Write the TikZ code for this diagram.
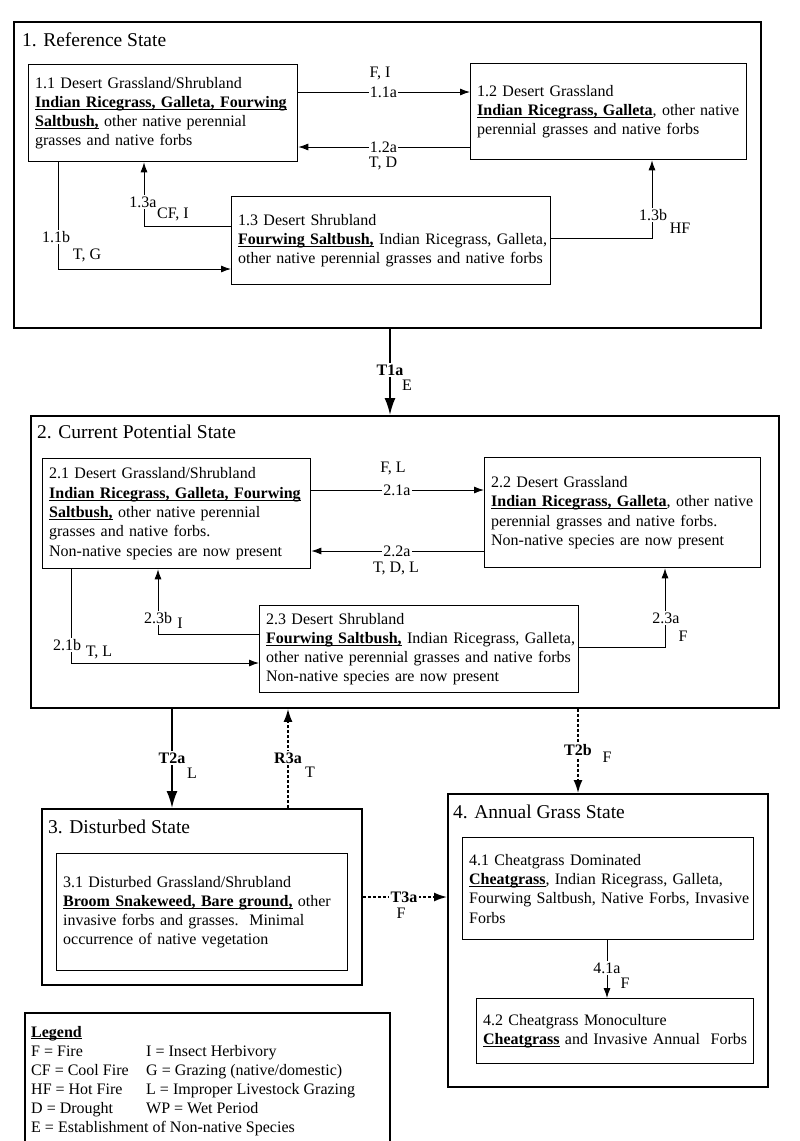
\documentclass[tikz,border=0pt]{standalone}
\usepackage{fontspec}
\setmainfont{Liberation Serif}
\usetikzlibrary{arrows.meta}
\newcommand\ulb[1]{\leavevmode\setbox0\hbox{\textbf{#1}}\rlap{\rule[-2.3pt]{\wd0}{0.9pt}}\box0\relax}
\newcommand\ml[1]{\mbox{#1}}
\newcommand\fsz{\fontsize{16}{19.3}\selectfont}
\newcommand\ftl{\fontsize{19.5}{23}\selectfont}
\tikzset{
  box/.style={draw, line width=1.3pt, inner xsep=6.5pt, inner ysep=0pt, anchor=north west, align=left, font=\fsz},
  statebox/.style={draw, line width=1.9pt, anchor=north west, inner sep=0pt},
  ttl/.style={anchor=west, inner sep=0pt, font=\ftl},
  lab/.style={font=\fsz, inner sep=1.2pt, fill=white},
  cond/.style={font=\fsz, inner sep=0pt},
  blab/.style={font=\fsz\bfseries, inner sep=1.5pt, fill=white},
  leg/.style={font=\fsz, inner sep=0pt, anchor=base west},
  thinarr/.style={line width=0.9pt, -{Latex[length=10pt,width=7pt]}},
  thickarr/.style={line width=1.9pt, -{Latex[length=17pt,width=11pt]}},
  dasharr/.style={line width=1.6pt, dash pattern=on 3pt off 2pt, -{Latex[length=13pt,width=9pt]}},
}
\begin{document}
\begin{tikzpicture}[x=1pt,y=-1pt]
\useasboundingbox (0,0) rectangle (800,1141);

% ---------- state boxes ----------
\node[statebox, minimum width=747pt, minimum height=306pt] (s1) at (13,21) {};
\node[ttl] (t1) at (22,40) {1. Reference State};
\node[statebox, minimum width=748pt, minimum height=292pt] (s2) at (30,415) {};
\node[ttl] (t2) at (37,432) {2. Current Potential State};
\node[statebox, minimum width=320pt, minimum height=176pt] (s3) at (41,808) {};
\node[ttl] (t3) at (48,827) {3. Disturbed State};
\node[statebox, minimum width=320pt, minimum height=293pt] (s4) at (447,793) {};
\node[ttl] (t4) at (453,812) {4. Annual Grass State};

% ---------- community boxes ----------
\node[box, minimum width=269pt, minimum height=97pt, text width=256pt] (n11) at (28,64)
 {\ml{1.1 Desert Grassland/Shrubland}\\ \ml{\ulb{Indian Ricegrass, Galleta, Fourwing}}\\ \ml{\ulb{Saltbush,} other native perennial}\\ \ml{grasses and native forbs}};
\node[box, minimum width=276pt, minimum height=96pt, text width=263pt] (n12) at (470,63)
 {\ml{1.2 Desert Grassland}\\ \ml{\ulb{Indian Ricegrass, Galleta}, other native}\\ \ml{perennial grasses and native forbs}};
\node[box, minimum width=319pt, minimum height=88pt, text width=306pt] (n13) at (231,196)
 {\ml{1.3 Desert Shrubland}\\ \ml{\ulb{Fourwing Saltbush,} Indian Ricegrass, Galleta,}\\ \ml{other native perennial grasses and native forbs}};

\node[box, minimum width=268pt, minimum height=110pt, text width=255pt] (n21) at (42,458)
 {\ml{2.1 Desert Grassland/Shrubland}\\ \ml{\ulb{Indian Ricegrass, Galleta, Fourwing}}\\ \ml{\ulb{Saltbush,} other native perennial}\\ \ml{grasses and native forbs.}\\ \ml{Non-native species are now present}};
\node[box, minimum width=276pt, minimum height=110pt, text width=263pt] (n22) at (484,457)
 {\ml{2.2 Desert Grassland}\\ \ml{\ulb{Indian Ricegrass, Galleta}, other native}\\ \ml{perennial grasses and native forbs.}\\ \ml{Non-native species are now present}};
\node[box, minimum width=319pt, minimum height=87pt, text width=306pt] (n23) at (259,605)
 {\ml{2.3 Desert Shrubland}\\ \ml{\ulb{Fourwing Saltbush,} Indian Ricegrass, Galleta,}\\ \ml{other native perennial grasses and native forbs}\\ \ml{Non-native species are now present}};

\node[box, minimum width=291pt, minimum height=117pt, text width=278pt] (n31) at (56,853)
 {\ml{3.1 Disturbed Grassland/Shrubland}\\ \ml{\ulb{Broom Snakeweed, Bare ground,} other}\\ \ml{invasive forbs and grasses.\ \ Minimal}\\ \ml{occurrence of native vegetation}};

\node[box, minimum width=291pt, minimum height=102pt, text width=278pt] (n41) at (462,837)
 {\ml{4.1 Cheatgrass Dominated}\\ \ml{\ulb{Cheatgrass}, Indian Ricegrass, Galleta,}\\ \ml{Fourwing Saltbush, Native Forbs, Invasive}\\ \ml{Forbs}};
\node[box, minimum width=277pt, minimum height=65pt, text width=264pt] (n42) at (476,998)
 {\ml{4.2 Cheatgrass Monoculture}\\ \ml{\ulb{Cheatgrass} and Invasive Annual\ \ Forbs}};

% ---------- transitions inside state 1 ----------
\draw[thinarr] (n11.east |- 0,92) -- (n12.west |- 0,92);
\draw[thinarr] (n12.west |- 0,147) -- (n11.east |- 0,147);
\draw[thinarr] (n13.west |- 0,226) -| (n11.south -| 144,0);
\draw[thinarr] (n11.south -| 58,0) |- (n13.west |- 0,269);
\draw[thinarr] (n13.east |- 0,238) -| (n12.south -| 652,0);
\node[lab] (l11a) at (383.5,92) {1.1a};
\node[cond] (c11a) at (380,73) {F, I};
\node[lab] (l12a) at (383.5,147) {1.2a};
\node[cond] (c12a) at (383,163) {T, D};
\node[lab] (l13a) at (143,202) {1.3a};
\node[cond] (c13a) at (173,214) {CF, I};
\node[lab] (l11b) at (56,237) {1.1b};
\node[cond] (c11b) at (87,255) {T, G};
\node[lab] (l13b) at (653,215) {1.3b};
\node[cond] (c13b) at (680,228) {HF};

% ---------- T1a ----------
\draw[thickarr] (s1.south -| 390,0) -- (s2.north -| 390,0);
\node[blab] (lt1a) at (390,370) {T1a};
\node[cond] (ct1a) at (407,385) {E};

% ---------- transitions inside state 2 ----------
\draw[thinarr] (n21.east |- 0,490) -- (n22.west |- 0,490);
\draw[thinarr] (n22.west |- 0,551) -- (n21.east |- 0,551);
\draw[thinarr] (n23.west |- 0,634) -| (n21.south -| 158,0);
\draw[thinarr] (n21.south -| 71,0) |- (n23.west |- 0,663);
\draw[thinarr] (n23.east |- 0,647) -| (n22.south -| 665,0);
\node[lab] (l21a) at (397,490) {2.1a};
\node[cond] (c21a) at (393,468) {F, L};
\node[lab] (l22a) at (397,551) {2.2a};
\node[cond] (c22a) at (396,568) {T, D, L};
\node[lab] (l23b) at (158,618) {2.3b};
\node[cond] (c23b) at (180,623) {I};
\node[lab] (l21b) at (67,645) {2.1b};
\node[cond] (c21b) at (99,652) {T, L};
\node[lab] (l23a) at (666,618) {2.3a};
\node[cond] (c23a) at (683,636) {F};

% ---------- transitions between states ----------
\draw[thickarr] (s2.south -| 172,0) -- (s3.north -| 172,0);
\node[blab] (lt2a) at (172,758) {T2a};
\node[cond] (ct2a) at (192,773) {L};
\draw[dasharr] (s3.north -| 288,0) -- (s2.south -| 288,0);
\node[blab] (lr3a) at (288,758) {R3a};
\node[cond] (cr3a) at (310,772) {T};
\draw[dasharr] (s2.south -| 578,0) -- (s4.north -| 578,0);
\node[blab] (lt2b) at (578,750) {T2b};
\node[cond] (ct2b) at (607,757) {F};
\draw[dasharr] (s3.east |- 0,897) -- (s4.west |- 0,897);
\node[blab] (lt3a) at (404,897) {T3a};
\node[cond] (ct3a) at (401,913) {F};
\draw[thinarr] (n41.south -| 607,0) -- (n42.north -| 607,0);
\node[lab] (l41a) at (607,968) {4.1a};
\node[cond] (c41a) at (625,983) {F};

% ---------- legend ----------
\draw[line width=1.3pt] (25,1145) -- (25,1013) -- (390,1013) -- (390,1145);
\node[leg] (lg0) at (31,1037) {\ulb{Legend}};
\node[leg] (lg1) at (31,1056) {F = Fire};
\node[leg] (lg2) at (146,1056) {I = Insect Herbivory};
\node[leg] (lg3) at (31,1075) {CF = Cool Fire};
\node[leg] (lg4) at (146,1075) {G = Grazing (native/domestic)};
\node[leg] (lg5) at (31,1094) {HF = Hot Fire};
\node[leg] (lg6) at (146,1094) {L = Improper Livestock Grazing};
\node[leg] (lg7) at (31,1113) {D = Drought};
\node[leg] (lg8) at (146,1113) {WP = Wet Period};
\node[leg] (lg9) at (31,1132) {E = Establishment of Non-native Species};
\end{tikzpicture}
\end{document}
